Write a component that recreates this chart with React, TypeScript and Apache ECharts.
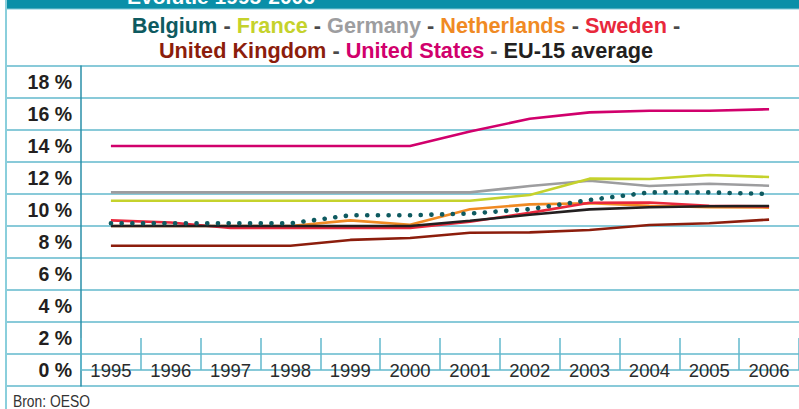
import React, { useEffect, useRef } from "react";
import * as echarts from "echarts";

const years = ["1995", "1996", "1997", "1998", "1999", "2000", "2001", "2002", "2003", "2004", "2005", "2006"];
const belgium = [9.17, 9.17, 9.17, 9.17, 9.67, 9.67, 9.78, 10.05, 10.63, 11.1, 11.1, 11.0];
const france = [10.58, 10.58, 10.58, 10.58, 10.58, 10.58, 10.58, 10.94, 11.96, 11.94, 12.19, 12.06];
const germany = [11.1, 11.1, 11.1, 11.1, 11.1, 11.1, 11.1, 11.5, 11.83, 11.5, 11.64, 11.52];
const netherlands = [9.0, 9.0, 9.0, 9.0, 9.35, 9.08, 10.05, 10.35, 10.42, 10.27, 10.18, 10.15];
const sweden = [9.35, 9.22, 8.88, 8.88, 8.88, 8.88, 9.27, 9.82, 10.45, 10.47, 10.27, 10.22];
const unitedKingdom = [7.77, 7.77, 7.77, 7.77, 8.13, 8.25, 8.58, 8.6, 8.75, 9.06, 9.17, 9.4];
const unitedStates = [14.0, 14.0, 14.0, 14.0, 14.0, 14.0, 14.9, 15.7, 16.1, 16.2, 16.2, 16.3];
const eu15 = [9.0, 9.0, 9.0, 9.0, 9.0, 9.0, 9.33, 9.7, 10.04, 10.17, 10.23, 10.25];

const yTicks = [0, 2, 4, 6, 8, 10, 12, 14, 16, 18];

const seriesNames = ["Belgium", "France", "Germany", "Netherlands", "Sweden", "United Kingdom", "United States", "EU-15 average"];
const seriesColors = ["#0e5a60", "#c5d22c", "#9d9d9f", "#f08a24", "#e8283c", "#8c1d0c", "#d1006c", "#231f20"];
const seriesData = [belgium, france, germany, netherlands, sweden, unitedKingdom, unitedStates, eu15];
const drawOrder = [5, 6, 2, 1, 3, 4, 7, 0];

const titleText = "Evolutie 1995-2006";
const sourceText = "Bron: OESO";

const FONT = "'Liberation Sans', Arial, sans-serif";
const GRID = "#62b8cc";

export default function App() {
  const ref = useRef<HTMLDivElement>(null);
  useEffect(() => {
    if (!ref.current) return;
    const chart = echarts.init(ref.current, null, { renderer: "svg" });

    const rich: any = {
      s: { fill: "#4a4a4a", fontSize: 21.7, fontWeight: "bold", fontFamily: FONT, lineHeight: 25 },
    };
    seriesColors.forEach((c, i) => {
      rich["c" + i] = { fill: c, fontSize: 21.7, fontWeight: "bold", fontFamily: FONT, lineHeight: 25 };
    });
    const part = (i: number) => `{c${i}|${seriesNames[i]}}`;
    const legendText =
      [0, 1, 2, 3, 4].map(part).join("{s| - }") +
      "{s| -}\n" +
      [5, 6, 7].map(part).join("{s| - }");

    const series: any[] = drawOrder.map((i) => ({
      name: seriesNames[i],
      type: "line",
      xAxisIndex: 0,
      yAxisIndex: 0,
      data: seriesData[i],
      symbol: "none",
      silent: true,
      lineStyle:
        i === 0
          ? { color: seriesColors[i], width: 4.6, type: [0.1, 10.6], cap: "round" }
          : { color: seriesColors[i], width: 2.6 },
      itemStyle: { color: seriesColors[i] },
    }));

    chart.setOption({
      animation: false,
      backgroundColor: "#ffffff",
      grid: [
        { left: 81, top: 66, width: 726, height: 320 },
        { left: 6, top: 66, width: 801, height: 320 },
      ],
      xAxis: [
        {
          type: "category",
          gridIndex: 0,
          data: years,
          boundaryGap: true,
          axisLine: { show: true, lineStyle: { color: GRID, width: 1.5 } },
          axisTick: { show: true, inside: true, length: 32, lineStyle: { color: GRID, width: 1.5 } },
          axisLabel: {
            margin: -16,
            verticalAlign: "middle",
            color: "#2b2b2b",
            fontSize: 18.5,
            fontFamily: FONT,
          },
          splitLine: { show: false },
        },
        { type: "value", gridIndex: 1, min: 0, max: 1, show: false },
      ],
      yAxis: [
        {
          type: "value",
          gridIndex: 0,
          min: -1,
          max: 19,
          interval: 1,
          axisLine: { show: true, lineStyle: { color: "#2a8fa8", width: 1.5 } },
          axisTick: { show: false },
          splitLine: { show: false },
          axisLabel: {
            margin: 9,
            color: "#231f20",
            fontSize: 19.5,
            fontWeight: "bold",
            fontFamily: FONT,
            formatter: (v: number) => (yTicks.indexOf(Math.round(v * 1000) / 1000) >= 0 ? `${Math.round(v)} %` : ""),
          },
        },
        {
          type: "value",
          gridIndex: 1,
          min: 0,
          max: 10,
          interval: 1,
          axisLine: { show: false },
          axisTick: { show: false },
          axisLabel: { show: false },
          splitLine: { show: true, lineStyle: { color: GRID, width: 1.6 } },
        },
      ],
      graphic: [
        { type: "rect", z: 10, shape: { x: 6, y: 0, width: 793, height: 8.7 }, style: { fill: "#0a8fa8" } },
        {
          type: "text",
          z: 11,
          x: 221,
          y: -4,
          style: {
            text: titleText,
            fill: "#ffffff",
            fontSize: 21,
            fontWeight: "bold",
            fontFamily: FONT,
            align: "center",
            verticalAlign: "middle",
          },
        },
        { type: "line", z: 10, shape: { x1: 6, y1: 9.5, x2: 799, y2: 9.5 }, style: { stroke: "#bfe3ec", lineWidth: 1 } },
        { type: "line", z: 10, shape: { x1: 6, y1: 0, x2: 6, y2: 409 }, style: { stroke: "#8acfdc", lineWidth: 2 } },
        {
          type: "text",
          z: 11,
          x: 406,
          y: 13,
          style: { text: legendText, rich, align: "center", verticalAlign: "top" },
        },
        {
          type: "text",
          z: 11,
          x: 13,
          y: 401,
          scaleX: 0.84,
          style: {
            text: sourceText,
            fill: "#333333",
            fontSize: 16.5,
            fontFamily: FONT,
            align: "left",
            verticalAlign: "middle",
          },
        },
      ],
      series,
    });
    return () => chart.dispose();
  }, []);
  return <div ref={ref} style={{ position: "absolute", left: 0, top: 0, width: 799, height: 409 }} />;
}
